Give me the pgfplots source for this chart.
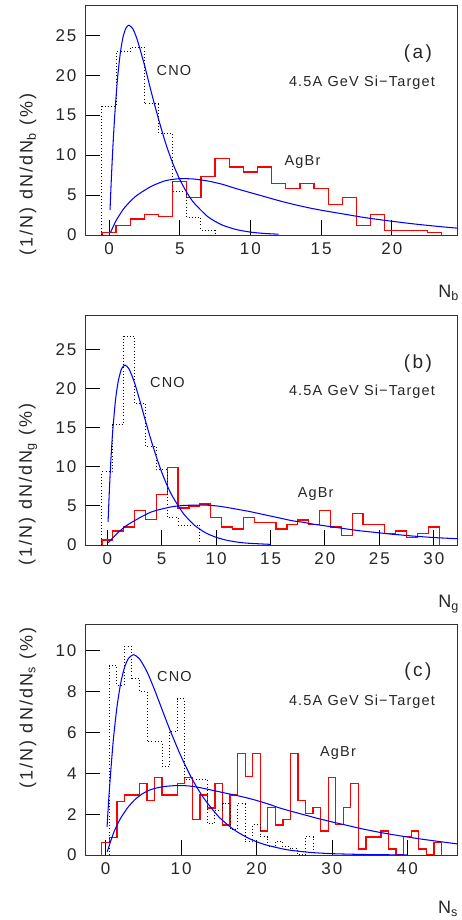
\documentclass[border=0pt]{standalone}
\usepackage{fontspec}
\setmainfont{Liberation Sans}
\newfontfamily\tickf[LetterSpace=12]{Liberation Sans}
\newfontfamily\innerf[LetterSpace=8]{Liberation Sans}
\newfontfamily\panf[LetterSpace=13]{Liberation Sans}
\usepackage{pgfplots}
\pgfplotsset{compat=1.18}
\definecolor{hred}{RGB}{255,0,0}
\definecolor{fblue}{RGB}{0,0,255}
\newcommand\tickfont{\tickf\fontsize{17}{17}\selectfont}
\newcommand\labfont{\tickf\fontsize{18}{18}\selectfont}
\newcommand\infont{\innerf\fontsize{14.5}{14.5}\selectfont}
\newcommand\panfont{\panf\fontsize{19}{19}\selectfont}
\pgfplotsset{
  panel/.style={
    scale only axis, width=372.7pt, height=230pt, anchor=south west,
    axis line style={black!80, line width=0.9pt},
    tick style={black, line width=0.9pt},
    major tick length=15pt, tick align=inside,
    xtick pos=bottom, ytick pos=left, minor tick num=0,
    ticklabel style={font=\tickfont, text=black!85},
    /pgf/number format/assume math mode=true,
    yticklabel style={xshift=-5pt},
    xticklabel style={yshift=-4pt},
    ymin=0,
  },
  cno/.style={draw=black, dash pattern=on 1pt off 2.2pt, line width=1pt, const plot mark left},
  agh/.style={draw=hred, solid, line width=1.3pt, const plot mark left},
  fit/.style={draw=fblue, solid, line width=1.05pt, smooth, tension=0.4},
}
\begin{document}
\begin{tikzpicture}[x=1pt,y=1pt]
\path (0,0) rectangle (461,920);
% ---------------- (a)
\begin{axis}[panel, at={(85pt,685pt)}, xmin=-1.7, xmax=24.66, ymax=28.78,
  xtick={0,5,10,15,20}, ytick={0,5,10,15,20,25}]
\addplot[agh] coordinates {(-0.5,0)(-0.5,0.3)(0.5,1.2)(1.5,2.0)(2.5,2.6)(3.5,2.3)(4.5,6.7)(5.5,4.7)(6.5,7.3)(7.5,9.6)(8.5,8.5)(9.5,7.9)(10.5,8.5)(11.5,6.4)(12.5,5.8)(13.5,6.4)(14.5,5.8)(15.5,3.8)(16.5,4.7)(17.5,1.2)(18.5,2.6)(19.5,0.6)(20.5,0.6)(21.5,0.6)(22.5,0.3)(23.5,0)};
\addplot[cno] coordinates {(-0.5,0)(-0.5,16.1)(0.5,22.9)(1.5,23.5)(2.5,16.4)(3.5,12.7)(4.5,5.4)(5.5,2.2)(6.5,0.6)(7.5,0)};
\addplot[fit] coordinates {(0.07,3.1)(0.15,6.5)(0.25,10.25)(0.4,14.9)(0.6,19.6)(0.8,22.8)(1.0,24.85)(1.2,25.9)(1.41,26.25)(1.7,25.75)(2.0,24.4)(2.5,21.3)(3.0,17.8)(3.5,14.5)(4.0,11.5)(4.5,9.0)(5.0,6.96)(5.5,5.32)(6.0,4.03)(7,2.27)(8,1.25)(9,0.68)(10,0.36)(11,0.19)(12,0.10)};
\addplot[fit] coordinates {(0.1,0.3)(0.5,1.8)(1,3.2)(1.5,4.2)(2,5.0)(3,6.1)(4,6.8)(5,7.05)(6,7.0)(7,6.75)(8,6.35)(9,5.8)(10,5.3)(11,4.8)(12,4.3)(13,3.85)(14,3.45)(15,3.1)(16,2.8)(17,2.5)(18,2.2)(19,1.95)(20,1.72)(21,1.5)(22,1.3)(23,1.12)(24,0.95)(24.7,0.85)};
\end{axis}
% ---------------- (b)
\begin{axis}[panel, at={(85pt,375pt)}, xmin=-2.05, xmax=32.2, ymax=29.4,
  xtick={0,5,10,15,20,25,30}, ytick={0,5,10,15,20,25}]
\addplot[agh] coordinates {(-0.5,0)(-0.5,0.64)(0.5,1.8)(1.5,2.3)(2.5,4.4)(3.5,3.25)(4.5,6.46)(5.5,9.95)(6.5,4.73)(7.5,5.0)(8.5,5.25)(9.5,3.5)(10.5,2.3)(11.5,2.05)(12.5,3.5)(13.5,2.9)(14.5,2.9)(15.5,2.05)(16.5,2.6)(17.5,3.2)(18.5,2.6)(19.5,4.4)(20.5,2.3)(21.5,1.2)(22.5,4.0)(23.5,2.6)(24.5,2.6)(25.5,1.5)(26.5,1.8)(27.5,0.94)(28.5,1.5)(29.5,2.3)(30.5,0)};
\addplot[cno] coordinates {(-0.5,0)(-0.5,9.35)(0.5,15.4)(1.5,26.7)(2.5,18.1)(3.5,12.6)(4.5,9.6)(5.5,3.5)(6.5,2.55)(7.5,2.55)(8.5,0)};
\addplot[fit] coordinates {(0.07,2.94)(0.2,7.3)(0.35,11.4)(0.5,14.6)(0.75,18.5)(1.0,20.9)(1.3,22.5)(1.62,23.0)(2.0,22.5)(2.5,20.75)(3.0,18.4)(3.5,15.9)(4.0,13.5)(4.5,11.3)(5.0,9.3)(5.5,7.6)(6.0,6.19)(7.0,4.0)(8,2.54)(9,1.58)(10,0.98)(11,0.6)(12,0.36)(13,0.22)(15,0.08)};
\addplot[fit] coordinates {(0.09,0.3)(0.5,0.9)(1,1.6)(1.5,2.2)(2,2.7)(3,3.5)(4,4.2)(5,4.6)(6,4.9)(7,5.05)(8,5.1)(9,5.1)(10,5.0)(11,4.8)(12,4.55)(13,4.3)(14,4.0)(15,3.7)(16,3.4)(17,3.1)(18,2.9)(19,2.65)(20,2.45)(21,2.25)(22,2.05)(23,1.85)(24,1.7)(25,1.55)(26,1.4)(27,1.28)(28,1.15)(29,1.05)(30,0.95)(31,0.88)(32.2,0.8)};
\end{axis}
% ---------------- (c)
\begin{axis}[panel, at={(85pt,65pt)}, height=230.5pt, xmin=-2.72, xmax=46.66, ymax=11.28,
  xtick={0,10,20,30,40}, ytick={0,2,4,6,8,10}]
\addplot[agh] coordinates {(-0.5,0)(-0.5,0.62)(0.5,0.87)(1.5,2.61)(2.5,2.94)(3.5,2.94)(4.5,3.51)(5.5,2.65)(6.5,3.8)(7.5,2.94)(8.5,2.94)(9.5,3.51)(10.5,3.8)(11.5,1.75)(12.5,2.94)(13.5,2.3)(14.5,3.51)(15.5,1.47)(16.5,2.94)(17.5,4.95)(18.5,3.84)(19.5,4.95)(20.5,1.18)(21.5,2.34)(22.5,1.47)(23.5,1.75)(24.5,4.95)(25.5,2.65)(26.5,2.04)(27.5,2.34)(28.5,1.18)(29.5,3.8)(30.5,1.5)(31.5,2.34)(32.5,3.51)(33.5,0.3)(34.5,0.88)(35.5,0.88)(36.5,1.18)(37.5,0.3)(38.5,0)(39.5,0.9)(40.5,1.18)(41.5,0.3)(42.5,0)(43.5,0.6)(44.5,0)};
\addplot[cno] coordinates {(0.5,0)(0.5,9.26)(1.5,8.3)(2.5,10.18)(3.5,8.66)(4.5,8.0)(5.5,5.55)(6.5,5.55)(7.5,4.33)(8.5,6.05)(9.5,7.65)(10.5,3.7)(11.5,3.7)(12.5,3.7)(13.5,1.55)(14.5,2.2)(15.5,2.5)(16.5,1.26)(17.5,2.5)(18.5,0.65)(19.5,1.5)(20.5,0.9)(21.5,0.4)(22.5,0.65)(23.5,0.4)(24.5,0.3)(25.5,0)(26.5,0.9)(27.5,0)};
\addplot[fit] coordinates {(0.2,1.36)(0.5,3.14)(1,5.5)(1.5,7.2)(2,8.39)(2.5,9.16)(3,9.6)(3.7,9.8)(4.5,9.6)(5.5,8.96)(6.5,8.08)(7.5,7.11)(8.5,6.15)(10,4.83)(11.5,3.7)(13,2.79)(15,1.87)(17,1.24)(19,0.81)(21,0.52)(24,0.26)(27,0.13)(30,0.065)(35,0.02)(40,0.005)};
\addplot[fit] coordinates {(0.24,0.16)(0.7,0.7)(1.2,1.2)(2,1.8)(3,2.35)(4,2.75)(5,3.02)(6,3.2)(7,3.3)(8,3.36)(9,3.39)(10,3.4)(11,3.38)(12,3.33)(13,3.26)(14,3.18)(15,3.1)(16,3.02)(17,2.94)(18,2.86)(19,2.77)(20,2.67)(21,2.56)(22,2.44)(23,2.31)(24,2.2)(25,2.1)(26,2.0)(27,1.9)(28,1.8)(30,1.62)(32,1.45)(34,1.28)(36,1.13)(38,1.0)(40,0.88)(42,0.77)(44,0.67)(46.66,0.54)};
\end{axis}
% ---------------- texts
\begin{scope}[every node/.style={text=black!85, inner sep=0pt}]
\node[font=\panfont] at (418,866) {(a)};
\node[font=\infont] at (362,837.5) {4.5A GeV Si−Target};
\node[font=\infont] at (174,849) {CNO};
\node[font=\infont] at (302.5,757.5) {AgBr};
\node[font=\labfont, rotate=90, anchor=east] at (28,827) {(1/N) dN/dN\textsubscript{b} (\%)};
\node[font=\labfont, anchor=north east] at (459,635) {N\textsubscript{b}};
\node[font=\panfont] at (418,556) {(b)};
\node[font=\infont] at (362,528) {4.5A GeV Si−Target};
\node[font=\infont] at (167.5,537.3) {CNO};
\node[font=\infont] at (315.7,426) {AgBr};
\node[font=\labfont, rotate=90, anchor=east] at (28,517) {(1/N) dN/dN\textsubscript{g} (\%)};
\node[font=\labfont, anchor=north east] at (459,325) {N\textsubscript{g}};
\node[font=\panfont] at (418,248) {(c)};
\node[font=\infont] at (362,218.3) {4.5A GeV Si−Target};
\node[font=\infont] at (174.5,243.3) {CNO};
\node[font=\infont] at (338,167) {AgBr};
\node[font=\labfont, rotate=90, anchor=east] at (28,293) {(1/N) dN/dN\textsubscript{s} (\%)};
\node[font=\labfont, anchor=north east] at (458,19) {N\textsubscript{s}};
\end{scope}
\end{tikzpicture}
\end{document}
